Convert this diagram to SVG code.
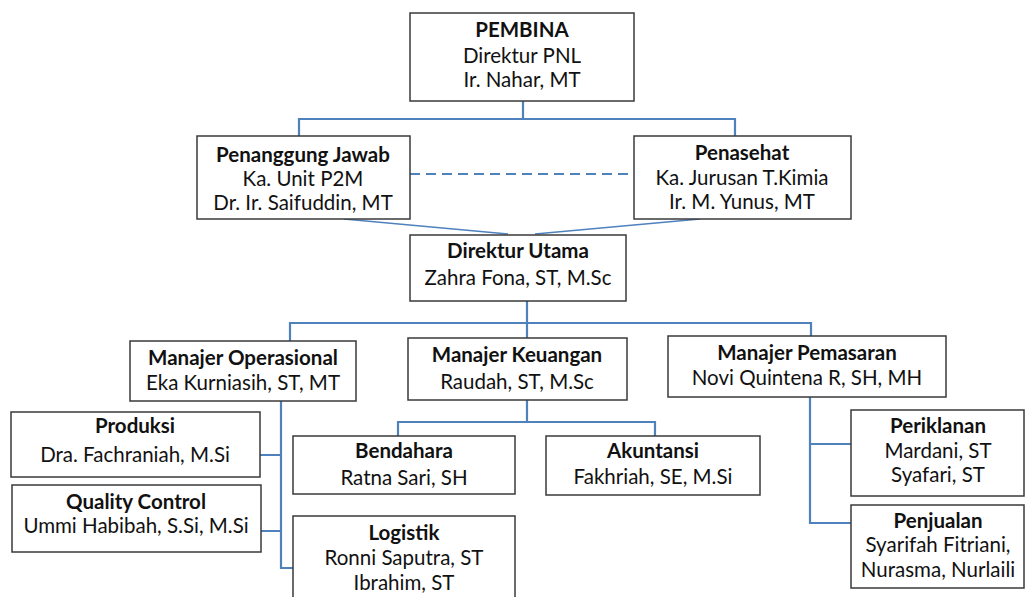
<svg xmlns="http://www.w3.org/2000/svg" width="1025" height="597" viewBox="0 0 1025 597">
<style>
.box{fill:#fff;stroke:#3a3a3a;stroke-width:1.5}
text{font-family:Lato,"Liberation Sans",sans-serif;font-size:20.5px;fill:#111;text-anchor:middle}
.b{font-weight:bold}
.c{fill:none;stroke:#4f81bd;stroke-width:2.2}
.t{fill:none;stroke:#4f81bd;stroke-width:1.4}
.d{fill:none;stroke:#4f81bd;stroke-width:2.2;stroke-dasharray:10 6}
</style>
<rect width="1025" height="597" fill="#fff"/>
<g id="connectors">
<path class="c" d="M523 101V119M299 136V119H735V136"/>
<path class="d" d="M410 174H634"/>
<path class="t" d="M344 219L508 234M700 219L535 234"/>
<path class="c" d="M527 301V323M290 341V323H811V336M527 323V338"/>
<path class="c" d="M281 401V568H294M260 455H281M261 531H281"/>
<path class="c" d="M527 400V422M398 436V422H655V436"/>
<path class="c" d="M810 397V523H851M810 444H851"/>
</g>
<g id="pembina"><rect class="box" x="410" y="13" width="224" height="88"/>
<text x="522" y="37" class="b">PEMBINA</text><text x="522" y="63">Direktur PNL</text><text x="522" y="87">Ir. Nahar, MT</text></g>
<g id="penanggung-jawab"><rect class="box" x="197" y="136" width="213" height="83"/>
<text x="303" y="162" class="b">Penanggung Jawab</text><text x="303" y="186">Ka. Unit P2M</text><text x="303" y="210">Dr. Ir. Saifuddin, MT</text></g>
<g id="penasehat"><rect class="box" x="634" y="136" width="217" height="83"/>
<text x="742" y="160" class="b">Penasehat</text><text x="742" y="185">Ka. Jurusan T.Kimia</text><text x="742" y="209">Ir. M. Yunus, MT</text></g>
<g id="direktur-utama"><rect class="box" x="410" y="235" width="216" height="66"/>
<text x="518" y="258" class="b">Direktur Utama</text><text x="518" y="285">Zahra Fona, ST, M.Sc</text></g>
<g id="manajer-operasional"><rect class="box" x="130" y="341" width="226" height="60"/>
<text x="243" y="365" class="b">Manajer Operasional</text><text x="243" y="390">Eka Kurniasih, ST, MT</text></g>
<g id="manajer-keuangan"><rect class="box" x="408" y="338" width="219" height="62"/>
<text x="517" y="362" class="b">Manajer Keuangan</text><text x="517" y="389">Raudah, ST, M.Sc</text></g>
<g id="manajer-pemasaran"><rect class="box" x="668" y="336" width="278" height="61"/>
<text x="807" y="360" class="b">Manajer Pemasaran</text><text x="807" y="385">Novi Quintena R, SH, MH</text></g>
<g id="produksi"><rect class="box" x="11" y="412" width="249" height="65"/>
<text x="135" y="433" class="b">Produksi</text><text x="135" y="462">Dra. Fachraniah, M.Si</text></g>
<g id="quality-control"><rect class="box" x="12" y="485" width="249" height="67"/>
<text x="136" y="509" class="b">Quality Control</text><text x="136" y="533">Ummi Habibah, S.Si, M.Si</text></g>
<g id="bendahara"><rect class="box" x="293" y="436" width="222" height="58"/>
<text x="404" y="458" class="b">Bendahara</text><text x="404" y="485">Ratna Sari, SH</text></g>
<g id="logistik"><rect class="box" x="293" y="516" width="222" height="90"/>
<text x="404" y="540" class="b">Logistik</text><text x="404" y="565">Ronni Saputra, ST</text><text x="404" y="590">Ibrahim, ST</text></g>
<g id="akuntansi"><rect class="box" x="546" y="436" width="214" height="59"/>
<text x="653" y="458" class="b">Akuntansi</text><text x="653" y="484">Fakhriah, SE, M.Si</text></g>
<g id="periklanan"><rect class="box" x="851" y="410" width="173" height="86"/>
<text x="938" y="433" class="b">Periklanan</text><text x="938" y="458">Mardani, ST</text><text x="938" y="482">Syafari, ST</text></g>
<g id="penjualan"><rect class="box" x="851" y="505" width="173" height="83"/>
<text x="938" y="528" class="b">Penjualan</text><text x="938" y="552">Syarifah Fitriani,</text><text x="938" y="577">Nurasma, Nurlaili</text></g>
</svg>
